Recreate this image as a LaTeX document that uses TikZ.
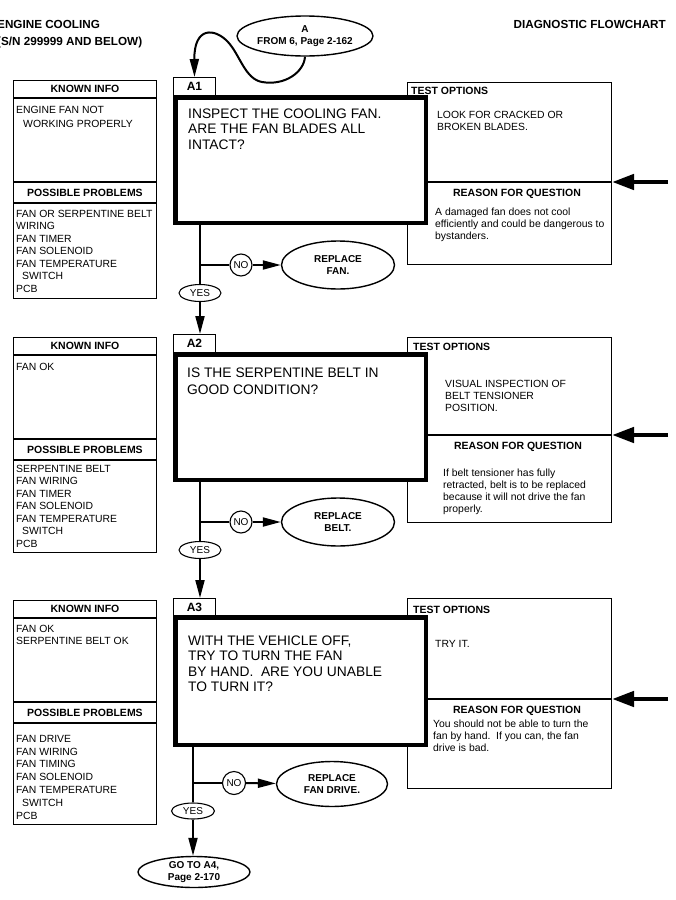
\documentclass[tikz,border=0pt]{standalone}
\usepackage{fontspec}
\setmainfont{Liberation Sans}
\usetikzlibrary{arrows.meta,shapes.geometric}
\tikzset{
 boxline/.style={line width=1.1pt},
 boxn/.style={draw, rectangle, line width=1.1pt, fill=white, inner sep=0pt, anchor=north west},
 qboxn/.style={draw, rectangle, line width=4.5pt, fill=white, inner sep=0pt, anchor=north west},
 labn/.style={boxn, font=\fontsize{12}{14}\selectfont\bfseries, minimum width=41.9pt, minimum height=17.9pt},
 hdr/.style={font=\fontsize{10.5}{12}\selectfont\bfseries, inner sep=0pt},
 txt/.style={font=\fontsize{10.4}{12}\selectfont, inner sep=0pt, align=left, anchor=north west},
 qtxt/.style={font=\fontsize{13.8}{15.5}\selectfont, inner sep=0pt, align=left, anchor=north west},
 ovaln/.style={draw, ellipse, line width=1.4pt, fill=white, inner sep=0pt, font=\fontsize{10}{12}\selectfont\bfseries, align=center},
 yesn/.style={draw, ellipse, line width=1.1pt, fill=white, inner sep=0pt, font=\fontsize{10}{12}\selectfont, minimum width=42pt, minimum height=17pt},
 non/.style={draw, circle, line width=1.1pt, fill=white, inner sep=0pt, font=\fontsize{10}{12}\selectfont, minimum size=22pt},
 conn/.style={line width=2pt},
 arr/.style={line width=2pt, -{Triangle[length=18pt,width=9pt]}},
 bigarr/.style={line width=4.5pt, -{Triangle[length=22pt,width=15pt]}},
 title/.style={font=\fontsize{11.7}{13}\selectfont\bfseries, inner sep=0pt}
}
\begin{document}
\begin{tikzpicture}[x=1pt,y=-1pt]
\useasboundingbox (0,0) rectangle (676,900);
\fill[white] (0,0) rectangle (676,900);

% titles
\node[title, anchor=base west] (h1) at (-3,28) {ENGINE COOLING};
\node[title, anchor=base west] (h2) at (-3,45) {(S/N 299999 AND BELOW)};
\node[title, anchor=base east] (h3) at (666,28) {DIAGNOSTIC FLOWCHART};

% start oval
\node[ovaln, minimum width=136pt, minimum height=40pt, font=\fontsize{10}{12}\selectfont\bfseries] (A) at (305,36) {A\\FROM 6, Page 2-162};

%% ---------------- BLOCK 1 ----------------
\node[boxn, minimum width=142.9pt, minimum height=217.9pt] (k1) at (13,80) {};
\draw[boxline] (13,98) -- (157,98) (13,182) -- (157,182) (13,203) -- (157,203);
\node[hdr, anchor=base] (k1h) at (85,92.7) {KNOWN INFO};
\node[hdr, anchor=base] (k1p) at (85,196.2) {POSSIBLE PROBLEMS};
\node[txt, font=\fontsize{10.4}{14}\selectfont] (k1t) at (16,105.8) {ENGINE FAN NOT\\\hspace*{7pt}WORKING PROPERLY};
\node[txt, font=\fontsize{10.4}{12.5}\selectfont] (k1l) at (16,209.8) {FAN OR SERPENTINE BELT\\WIRING\\FAN TIMER\\FAN SOLENOID\\FAN TEMPERATURE\\\hspace*{6pt}SWITCH\\PCB};

\node[boxn, minimum width=203.9pt, minimum height=181.9pt] (t1) at (407,82) {};
\node[labn] (a1) at (173,77) {A1};
\node[qboxn, minimum width=250.5pt, minimum height=125.5pt] (q1) at (173,95) {};
\draw[boxline] (426,182) -- (612,182);
\node[hdr, anchor=base west] (t1h) at (411,94.5) {TEST OPTIONS};
\node[txt] (t1t) at (437,110.8) {LOOK FOR CRACKED OR\\BROKEN BLADES.};
\node[hdr, anchor=base] (t1r) at (517,196) {REASON FOR QUESTION};
\node[txt, font=\fontsize{10.4}{11.8}\selectfont] (t1rt) at (435,207.8) {A damaged fan does not cool\\efficiently and could be dangerous to\\bystanders.};
\node[qtxt] (q1t) at (188,108.3) {INSPECT THE COOLING FAN.\\ARE THE FAN BLADES ALL\\INTACT?};

\coordinate (e1) at (668,182);
\draw[bigarr] (e1) -- (t1.east |- e1);

\node[yesn] (y1) at (200,293) {YES};
\node[non] (n1) at (241,265) {NO};
\node[ovaln, minimum width=113pt, minimum height=48pt] (r1) at (338,265) {REPLACE\\FAN.};

%% ---------------- BLOCK 2 ----------------
\node[boxn, minimum width=142.9pt, minimum height=214.9pt] (k2) at (13,337) {};
\draw[boxline] (13,355) -- (157,355) (13,439) -- (157,439) (13,460) -- (157,460);
\node[hdr, anchor=base] (k2h) at (85,349.7) {KNOWN INFO};
\node[hdr, anchor=base] (k2p) at (85,453.2) {POSSIBLE PROBLEMS};
\node[txt] (k2t) at (16,362.8) {FAN OK};
\node[txt, font=\fontsize{10.4}{12.5}\selectfont] (k2l) at (16,464.8) {SERPENTINE BELT\\FAN WIRING\\FAN TIMER\\FAN SOLENOID\\FAN TEMPERATURE\\\hspace*{6pt}SWITCH\\PCB};

\node[boxn, minimum width=203.9pt, minimum height=184.9pt] (t2) at (407,337) {};
\node[labn] (a2) at (173,334) {A2};
\node[qboxn, minimum width=250.5pt, minimum height=125.5pt] (q2) at (173,352) {};
\draw[boxline] (426,435) -- (612,435);
\node[hdr, anchor=base west] (t2h) at (413,350) {TEST OPTIONS};
\node[txt] (t2t) at (445,379.8) {VISUAL INSPECTION OF\\BELT TENSIONER\\POSITION.};
\node[hdr, anchor=base] (t2r) at (518,449) {REASON FOR QUESTION};
\node[txt] (t2rt) at (443,468.8) {If belt tensioner has fully\\retracted, belt is to be replaced\\because it will not drive the fan\\properly.};
\node[qtxt, font=\fontsize{13.8}{17}\selectfont] (q2t) at (187,367.3) {IS THE SERPENTINE BELT IN\\GOOD CONDITION?};

\coordinate (e2) at (668,435);
\draw[bigarr] (e2) -- (t2.east |- e2);

\node[yesn] (y2) at (200,550) {YES};
\node[non] (n2) at (241,522) {NO};
\node[ovaln, minimum width=113pt, minimum height=48pt] (r2) at (338,522) {REPLACE\\BELT.};

%% ---------------- BLOCK 3 ----------------
\node[boxn, minimum width=142.9pt, minimum height=223.9pt] (k3) at (13,600) {};
\draw[boxline] (13,618) -- (157,618) (13,702) -- (157,702) (13,723) -- (157,723);
\node[hdr, anchor=base] (k3h) at (85,612.7) {KNOWN INFO};
\node[hdr, anchor=base] (k3p) at (85,716.2) {POSSIBLE PROBLEMS};
\node[txt] (k3t) at (16,624.8) {FAN OK\\SERPENTINE BELT OK};
\node[txt, font=\fontsize{10.4}{12.9}\selectfont] (k3l) at (16,734.8) {FAN DRIVE\\FAN WIRING\\FAN TIMING\\FAN SOLENOID\\FAN TEMPERATURE\\\hspace*{6pt}SWITCH\\PCB};

\node[boxn, minimum width=203.9pt, minimum height=189.9pt] (t3) at (407,598) {};
\node[labn] (a3) at (173,598) {A3};
\node[qboxn, minimum width=250.5pt, minimum height=127.5pt] (q3) at (173,615) {};
\draw[boxline] (426,699) -- (612,699);
\node[hdr, anchor=base west] (t3h) at (413,613) {TEST OPTIONS};
\node[txt] (t3t) at (435,639.8) {TRY IT.};
\node[hdr, anchor=base] (t3r) at (517,713) {REASON FOR QUESTION};
\node[txt] (t3rt) at (433,719.8) {You should not be able to turn the\\fan by hand.\ \ If you can, the fan\\drive is bad.};
\node[qtxt] (q3t) at (188,635.3) {WITH THE VEHICLE OFF,\\TRY TO TURN THE FAN\\BY HAND.\ \ ARE YOU UNABLE\\TO TURN IT?};

\coordinate (e3) at (668,699);
\draw[bigarr] (e3) -- (t3.east |- e3);

\node[yesn, minimum width=43pt, minimum height=16pt] (y3) at (193,811) {YES};
\node[non, minimum size=23pt] (n3) at (234,783) {NO};
\node[ovaln, minimum width=111pt, minimum height=45pt] (r3) at (332,784) {REPLACE\\FAN DRIVE.};
\node[ovaln, minimum width=112pt, minimum height=31pt] (g) at (194,872) {GO TO A4,\\Page 2-170};

%% ---------------- CONNECTORS ----------------
\draw[arr] (A.south) .. controls (304,72) and (285,86) .. (262,82)
  .. controls (245,79) and (240,55) .. (228,42)
  .. controls (215,28) and (194,26) .. (a1.north);

\draw[conn] (q1.south -| y1) -- (y1.north);
\draw[conn] (y1 |- n1) -- (n1);
\draw[arr] (n1) -- (r1);
\draw[arr] (y1) -- (y1 |- a2.north);

\draw[conn] (q2.south -| y2) -- (y2.north);
\draw[conn] (y2 |- n2) -- (n2);
\draw[arr] (n2) -- (r2);
\draw[arr] (y2) -- (y2 |- a3.north);

\draw[conn] (q3.south -| y3) -- (y3.north);
\draw[conn] (y3 |- n3) -- (n3);
\draw[arr] (n3) -- (r3);
\draw[arr] (y3) -- (y3 |- g.north);
\end{tikzpicture}
\end{document}
